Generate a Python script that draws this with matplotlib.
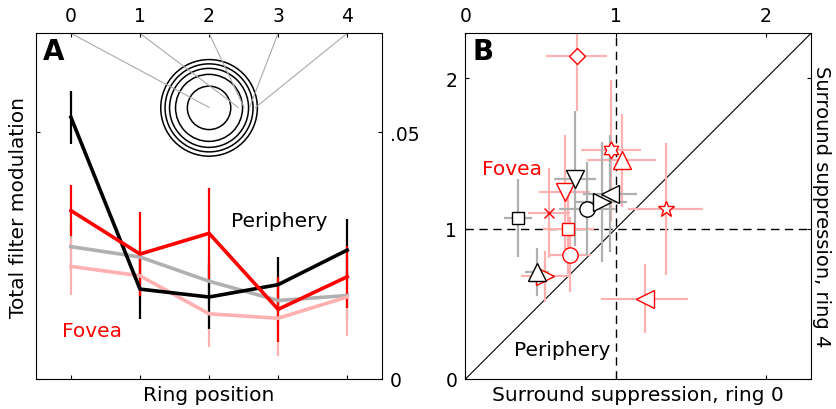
import numpy as np
import matplotlib.pyplot as plt
from matplotlib.patches import Ellipse
from matplotlib.path import Path

plt.rcParams['font.family'] = ['DejaVu Sans']
plt.rcParams['font.size'] = 14

RED = '#ff0000'
PINK = '#ffb0b0'
GRAY = '#b0b0b0'

# ---- panel A data: total filter modulation per ring position ----
rings = [0, 1, 2, 3, 4]
periph = [0.0530, 0.0182, 0.0166, 0.0191, 0.0261]
periph_err = [0.0054, 0.0060, 0.0064, 0.0056, 0.0063]
fovea = [0.0341, 0.0253, 0.0295, 0.0141, 0.0207]
fovea_err = [0.0051, 0.0085, 0.0092, 0.0066, 0.0063]
periph_mean = [0.0268, 0.0247, 0.0198, 0.0159, 0.0169]
periph_mean_err = [0.0050, 0.0050, 0.0050, 0.0050, 0.0050]
fovea_mean = [0.0228, 0.0209, 0.0132, 0.0123, 0.0166]
fovea_mean_err = [0.0057, 0.0060, 0.0068, 0.0076, 0.0078]

# ---- panel B data: surround suppression ring 0 vs ring 4 ----
per_x = [0.351, 0.729, 0.810, 0.906, 0.961, 0.474]
per_y = [1.071, 1.333, 1.133, 1.178, 1.233, 0.711]
per_xerr = [0.095, 0.14, 0.19, 0.17, 0.18, 0.08]
per_yerr = [0.26, 0.45, 0.31, 0.40, 0.39, 0.16]
per_mark = ['s', 'v', 'o', '>', '<', '^']

fov_x = [0.740, 0.966, 1.039, 0.662, 0.556, 0.684, 0.695, 0.529, 1.332, 1.194]
fov_y = [2.150, 1.522, 1.455, 1.244, 1.107, 1.000, 0.827, 0.682, 1.133, 0.533]
fov_xerr = [0.205, 0.20, 0.23, 0.17, 0.14, 0.17, 0.14, 0.16, 0.25, 0.29]
fov_yerr = [0.37, 0.47, 0.31, 0.38, 0.30, 0.30, 0.25, 0.17, 0.44, 0.23]
fov_mark = ['D', 'hex', '^', 'v', 'x', 's', 'o', '>', '*', '<']

ms = {'s': 8.5, 'v': 13, 'o': 11, '>': 13, '<': 13, '^': 13,
      'D': 8.2, 'hex': 12, 'x': 7, '*': 12}

# six-pointed star (hexagram) outline
ang = np.pi / 2 + np.arange(12) * np.pi / 6
rad = np.where(np.arange(12) % 2 == 0, 1.0, 1 / np.sqrt(3))
hexagram = Path(np.column_stack([rad * np.cos(ang), rad * np.sin(ang)]).tolist() + [[0, 1]],
                closed=True)

W, H = 836, 410
fig = plt.figure(figsize=(W / 100, H / 100), dpi=100)
axA = fig.add_axes([36.4 / W, 30 / H, 345.3 / W, 345.7 / H])
axB = fig.add_axes([465.5 / W, 30 / H, 345.5 / W, 345.7 / H])

# ---------------- panel A ----------------
for y, e, c in [(periph_mean, periph_mean_err, GRAY), (fovea_mean, fovea_mean_err, PINK),
                (periph, periph_err, 'black'), (fovea, fovea_err, RED)]:
    axA.errorbar(rings, y, yerr=e, color=c, lw=2.6, elinewidth=1.6, capsize=0)

axA.set_xlim(-0.5, 4.5)
axA.set_ylim(0, 0.07)
axA.set_xticks(rings)
axA.set_yticks([0, 0.05])
axA.set_yticklabels(['0', '.05'])
axA.tick_params(direction='in', length=3, labelsize=13.5, top=True, right=True,
                labeltop=True, labelbottom=False, labelleft=False, labelright=True,
                pad=6)
axA.set_xlabel('Ring position', fontsize=14.5, labelpad=4)
axA.set_ylabel('Total filter modulation', fontsize=14.5, labelpad=6)

# concentric ring diagram with leader lines to the top ticks
px_x = 345.3 / 5.0
px_y = 345.7 / 0.07
cx, cy = 2.0, 0.0549
for r in [21.7, 33.5, 39.5, 44.0, 48.3]:
    axA.add_patch(Ellipse((cx, cy), 2 * r / px_x, 2 * r / px_y, fill=False,
                          ec='black', lw=1.1))
for k, off in zip(rings, [0, 29, 35, 40.5, 46.5]):
    axA.plot([k, cx + off / px_x], [0.07, cy + 0.5 / px_y], color='#aaaaaa', lw=0.8,
             clip_on=False)

axA.text(-0.133, 0.0098, 'Fovea', color=RED, fontsize=14.5, va='center')
axA.text(2.32, 0.0320, 'Periphery', color='black', fontsize=14.5, va='center')
axA.text(0.018, 0.988, 'A', transform=axA.transAxes, fontsize=20, fontweight='bold',
         va='top', ha='left')

# ---------------- panel B ----------------
axB.plot([0, 2.3], [0, 2.3], color='black', lw=0.8)
axB.axvline(1, color='black', lw=1, ls=(0, (6, 4)))
axB.axhline(1, color='black', lw=1, ls=(0, (6, 4)))

axB.errorbar(fov_x, fov_y, xerr=fov_xerr, yerr=fov_yerr, fmt='none', ecolor=PINK,
             elinewidth=1.6, capsize=0)
axB.errorbar(per_x, per_y, xerr=per_xerr, yerr=per_yerr, fmt='none', ecolor=GRAY,
             elinewidth=1.6, capsize=0)

for x, y, m in zip(fov_x, fov_y, fov_mark):
    mk = hexagram if m == 'hex' else m
    axB.plot(x, y, marker=mk, ms=ms[m], mfc='white', mec=RED, mew=1.0, ls='none')
for x, y, m in zip(per_x, per_y, per_mark):
    axB.plot(x, y, marker=m, ms=ms[m], mfc='white', mec='black', mew=1.0, ls='none')

axB.set_xlim(0, 2.3)
axB.set_ylim(0, 2.3)
axB.set_xticks([0, 1, 2])
axB.set_yticks([0, 1, 2])
axB.tick_params(direction='in', length=3, labelsize=13.5, top=True, right=True,
                labeltop=True, labelbottom=False, labelleft=True, labelright=False,
                pad=6)
axB.set_xlabel('Surround suppression, ring 0', fontsize=14.5, labelpad=4)
axB.yaxis.set_label_position('right')
axB.set_ylabel('Surround suppression, ring 4', fontsize=14, rotation=270,
               va='bottom', labelpad=1)

axB.text(0.307, 1.40, 'Fovea', color=RED, fontsize=14.5, va='center', ha='center')
axB.text(0.326, 0.195, 'Periphery', color='black', fontsize=14.5, va='center')
axB.text(0.021, 0.988, 'B', transform=axB.transAxes, fontsize=20, fontweight='bold',
         va='top', ha='left')

fig.savefig('out.png', dpi=100)
